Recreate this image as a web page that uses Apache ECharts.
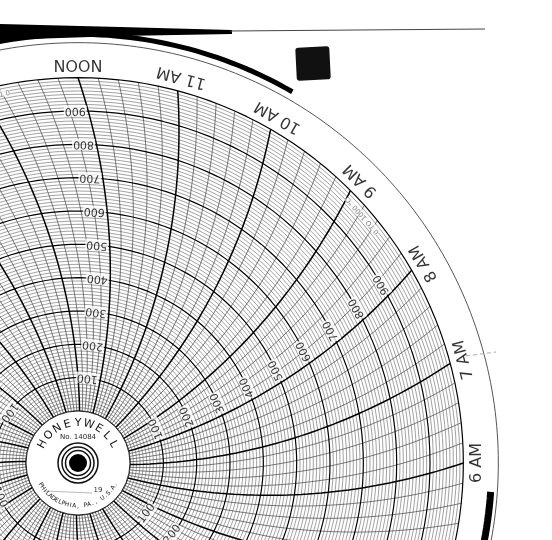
<!DOCTYPE html>
<html><head><meta charset="utf-8">
<script src="https://cdn.jsdelivr.net/npm/echarts@6/dist/echarts.min.js"></script>
<style>html,body{margin:0;padding:0;background:#fff}#c{width:552px;height:540px}</style>
</head><body><div id="c"></div>
<script>
// ---- data ----
const hourLabels = ['NOON','11 AM','10 AM','9 AM','8 AM','7 AM','6 AM','5 AM','4 AM','3 AM','2 AM','1 AM','MIDNIGHT','11 PM','10 PM','9 PM','8 PM','7 PM','6 PM','5 PM','4 PM','3 PM','2 PM','1 PM'];
const hourValues = [12,11,10,9,8,7,6,5,4,3,2,1,0,23,22,21,20,19,18,17,16,15,14,13];
const scaleLabels = [100,200,300,400,500,600,700,800,900];
const scaleColumnsHours = [12,8,4,16,20,0];
const rangeText = '0 TO 1000 °C';
const scaleMin = 0, scaleMax = 1000;

// ---- geometry helpers ----
const CX = 78, CY = 463, R0 = 52, K = 1/3;
const AXMAX = 1140;
const TWIST = 16.7;
function hourAngle(h){ let a = 90 + (h - 12) * 15; while(a > 240) a -= 360; while(a < -120) a += 360; return a; }
function curveAngle(a0, v){ return a0 - TWIST + v * TWIST / 1000; }

const minorRings = [], majorRings = [];
for (let v = scaleMin; v <= scaleMax; v += 10) {
  const arr = (v % 100 === 0) ? majorRings : minorRings;
  for (let a = -120; a <= 240; a += 2) arr.push([v, a]);
  arr.push([null, null]);
}
const minorCurves = [], majorCurves = [];
for (let m = 0; m < 24 * 5; m++) {
  const h = m / 5;
  const a0 = hourAngle(h);
  const arr = (m % 5 === 0) ? majorCurves : minorCurves;
  for (let v = scaleMin; v <= scaleMax; v += 20) arr.push([v, curveAngle(a0, v)]);
  arr.push([null, null]);
}
const hourLabelData = hourLabels.map((t, i) => {
  const a = hourAngle(hourValues[i]);
  return { value: [1042, a], name: t, label: { rotate: a + 90 } };
});
const scaleLabelData = [];
scaleColumnsHours.forEach(h => {
  const a0 = hourAngle(h);
  scaleLabels.forEach(v => {
    const rpx = R0 + v * K;
    const a = curveAngle(a0, v) + 13 / rpx * 180 / Math.PI;
    scaleLabelData.push({ value: [v, a], name: String(v), label: { rotate: a + 90 } });
  });
});
const rangeData = [
  { value: [975, 104], name: rangeText, label: { rotate: 194 } },
  { value: [975, 41], name: rangeText, label: { rotate: 131 } }
];
const paperEdge = []; for (let a = -120; a <= 240; a += 1) paperEdge.push([1105, a]);
const topArc = []; for (let a = 60; a <= 106; a += 1) topArc.push([1130, a]);
const rightArc = []; for (let a = -12; a <= -4; a += 1) rightArc.push([1085, a]);

const chart = echarts.init(document.getElementById('c'), null, { renderer: 'canvas' });

const hub = [
  { type: 'circle', shape: { cx: CX, cy: CY, r: R0 }, style: { fill: '#fff', stroke: '#222', lineWidth: 1 }, z: 100 },
  { type: 'circle', shape: { cx: CX, cy: CY, r: 20 }, style: { fill: 'none', stroke: '#111', lineWidth: 1.5 }, z: 101 },
  { type: 'circle', shape: { cx: CX, cy: CY, r: 16 }, style: { fill: 'none', stroke: '#111', lineWidth: 1.5 }, z: 101 },
  { type: 'circle', shape: { cx: CX, cy: CY, r: 12.5 }, style: { fill: '#fff', stroke: '#111', lineWidth: 1.5 }, z: 101 },
  { type: 'circle', shape: { cx: CX, cy: CY, r: 9 }, style: { fill: '#000' }, z: 102 },
  { type: 'text', x: CX, y: CY - 26, style: { text: 'No. 14084', font: '7px "DejaVu Sans"', fill: '#222', align: 'center', verticalAlign: 'middle' }, z: 103 },
  { type: 'text', x: CX + 20, y: CY + 27, style: { text: '19', font: '7px "DejaVu Sans"', fill: '#333', align: 'center', verticalAlign: 'middle' }, z: 103 },
  { type: 'line', shape: { x1: CX - 34, y1: CY + 28, x2: CX + 14, y2: CY + 30 }, style: { stroke: '#bbb', lineWidth: 1 }, z: 103 }
];
function arcText(str, r, aStart, aEnd, font, top) {
  const n = str.length;
  for (let i = 0; i < n; i++) {
    const a = aStart + (aEnd - aStart) * (n === 1 ? 0.5 : i / (n - 1));
    const rad = a * Math.PI / 180;
    hub.push({ type: 'text', x: CX + r * Math.cos(rad), y: CY - r * Math.sin(rad),
      rotation: (top ? a - 90 : a + 90) * Math.PI / 180,
      style: { text: str[i], font: font, fill: '#111', align: 'center', verticalAlign: 'middle' }, z: 103 });
  }
}
arcText('HONEYWELL', 40, 152, 28, '11px "DejaVu Sans"', true);
arcText('PHILADELPHIA, PA., U.S.A.', 43, -150, -30, '6px "DejaVu Sans"', false);

const deco = [
  { type: 'polygon', shape: { points: [[0,24],[120,27],[232,30],[232,34],[120,36],[0,40]] }, style: { fill: '#000' }, z: 90 },
  { type: 'line', shape: { x1: 230, y1: 31, x2: 485, y2: 29 }, style: { stroke: '#444', lineWidth: 1 }, z: 90 },
  { type: 'rect', shape: { x: 296, y: 47, width: 34, height: 33, r: 3 }, rotation: 0.05, originX: 313, originY: 63, style: { fill: '#111' }, z: 90 },
  { type: 'line', shape: { x1: 466, y1: 356, x2: 496, y2: 352 }, style: { stroke: '#aaa', lineWidth: 1, lineDash: [4, 3] }, z: 90 }
];

chart.setOption({
  animation: false,
  backgroundColor: '#fff',
  polar: { center: [CX, CY], radius: [R0, R0 + AXMAX * K] },
  radiusAxis: { type: 'value', min: 0, max: AXMAX, axisLine: { show: false }, axisTick: { show: false }, axisLabel: { show: false }, splitLine: { show: false } },
  angleAxis: { type: 'value', min: -120, max: 240, startAngle: -120, clockwise: false, axisLine: { show: false }, axisTick: { show: false }, axisLabel: { show: false }, splitLine: { show: false } },
  graphic: hub.concat(deco),
  series: [
    { type: 'line', coordinateSystem: 'polar', data: minorRings, symbol: 'none', connectNulls: false, lineStyle: { color: '#555', width: 0.55 }, silent: true, z: 1 },
    { type: 'line', coordinateSystem: 'polar', data: minorCurves, symbol: 'none', connectNulls: false, lineStyle: { color: '#444', width: 0.7 }, silent: true, z: 2 },
    { type: 'line', coordinateSystem: 'polar', data: majorRings, symbol: 'none', connectNulls: false, lineStyle: { color: '#000', width: 1.2 }, silent: true, z: 3 },
    { type: 'line', coordinateSystem: 'polar', data: majorCurves, symbol: 'none', connectNulls: false, lineStyle: { color: '#000', width: 1.5 }, silent: true, z: 4 },
    { type: 'line', coordinateSystem: 'polar', data: paperEdge, symbol: 'none', lineStyle: { color: '#555', width: 1 }, silent: true, z: 4 },
    { type: 'line', coordinateSystem: 'polar', data: topArc, symbol: 'none', lineStyle: { color: '#000', width: 5 }, silent: true, z: 4 },
    { type: 'line', coordinateSystem: 'polar', data: rightArc, symbol: 'none', lineStyle: { color: '#000', width: 7 }, silent: true, z: 4 },
    { type: 'scatter', coordinateSystem: 'polar', data: hourLabelData, symbolSize: 0, silent: true, z: 5,
      label: { show: true, position: 'inside', formatter: p => p.name, color: '#000', fontFamily: 'DejaVu Sans', fontSize: 16 } },
    { type: 'scatter', coordinateSystem: 'polar', data: scaleLabelData, symbolSize: 0, silent: true, z: 6,
      label: { show: true, position: 'inside', formatter: p => p.name, color: '#000', fontFamily: 'DejaVu Sans', fontSize: 11, backgroundColor: '#fff', padding: [0, 1] } },
    { type: 'scatter', coordinateSystem: 'polar', data: rangeData, symbolSize: 0, silent: true, z: 6,
      label: { show: true, position: 'inside', formatter: p => p.name, color: '#666', fontFamily: 'DejaVu Sans', fontSize: 7, backgroundColor: '#fff' } }
  ]
});
</script></body></html>
